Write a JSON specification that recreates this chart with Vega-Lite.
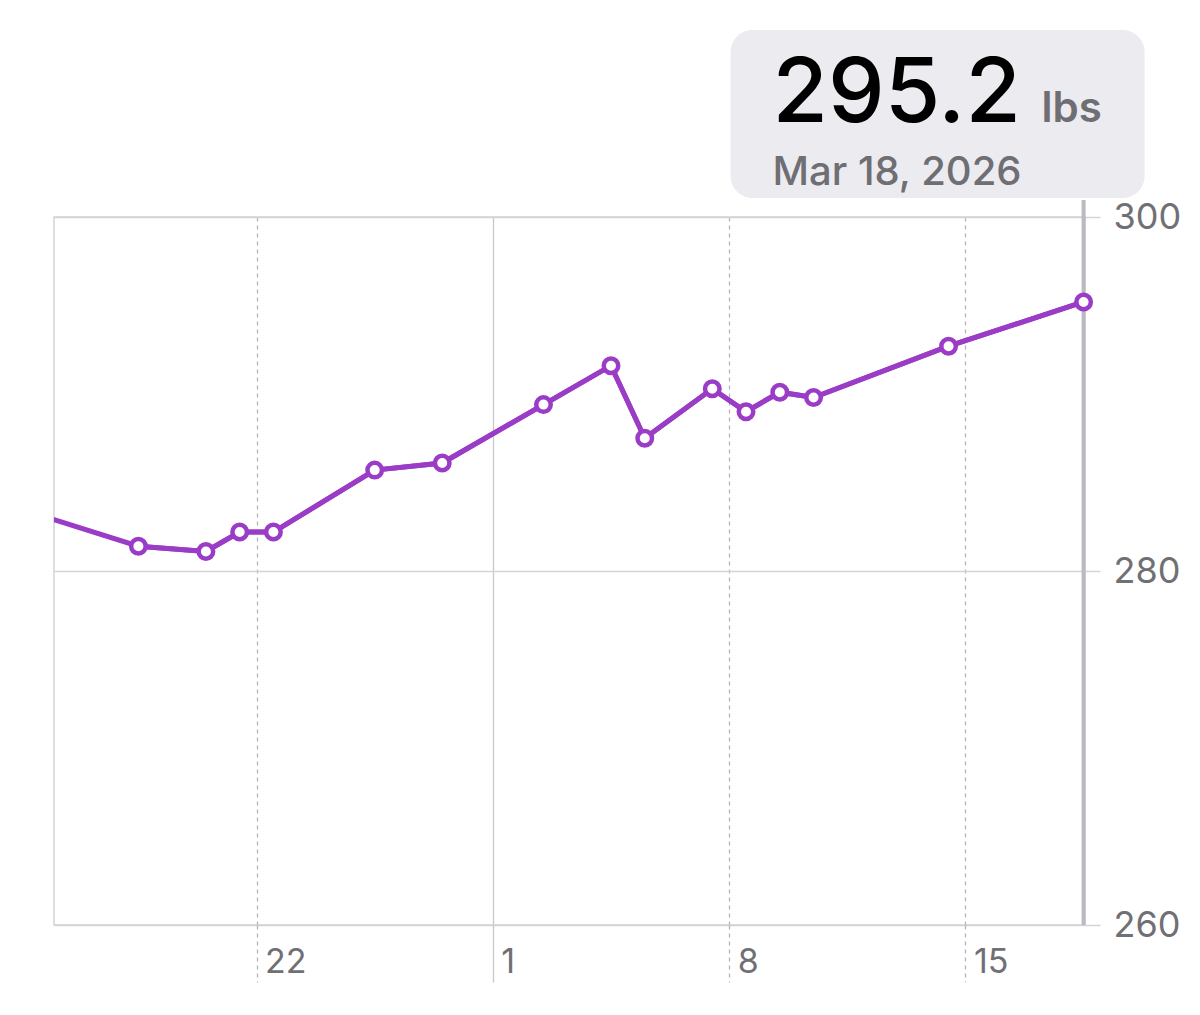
{
  "$schema": "https://vega.github.io/schema/vega-lite/v6.json",
  "width": 1031,
  "height": 708,
  "autosize": {"type": "none"},
  "padding": {"left": 54, "top": 217, "right": 115, "bottom": 90},
  "background": "white",
  "config": {
    "view": {"stroke": "#d4d4d8", "strokeWidth": 1.5},
    "font": "Inter"
  },
  "data": {
    "values": [
      {"date": "2026-02-15T12:00", "weight": 283.2},
      {"date": "2026-02-18T12:00", "weight": 281.4},
      {"date": "2026-02-20T12:00", "weight": 281.1},
      {"date": "2026-02-21T12:00", "weight": 282.2},
      {"date": "2026-02-22T12:00", "weight": 282.2},
      {"date": "2026-02-25T12:00", "weight": 285.7},
      {"date": "2026-02-27T12:00", "weight": 286.1},
      {"date": "2026-03-02T12:00", "weight": 289.4},
      {"date": "2026-03-04T12:00", "weight": 291.6},
      {"date": "2026-03-05T12:00", "weight": 287.5},
      {"date": "2026-03-07T12:00", "weight": 290.3},
      {"date": "2026-03-08T12:00", "weight": 289.0},
      {"date": "2026-03-09T12:00", "weight": 290.1},
      {"date": "2026-03-10T12:00", "weight": 289.8},
      {"date": "2026-03-14T12:00", "weight": 292.7},
      {"date": "2026-03-18T12:00", "weight": 295.2}
    ]
  },
  "encoding": {
    "x": {
      "field": "date",
      "type": "temporal",
      "scale": {
        "domain": [
          {"year": 2026, "month": 2, "date": 16},
          {"year": 2026, "month": 3, "date": 18, "hours": 13}
        ]
      },
      "axis": {
        "values": [
          {"year": 2026, "month": 2, "date": 22},
          {"year": 2026, "month": 3, "date": 1},
          {"year": 2026, "month": 3, "date": 8},
          {"year": 2026, "month": 3, "date": 15}
        ],
        "format": "%-d",
        "title": null,
        "domain": false,
        "grid": true,
        "gridColor": {"condition": {"test": "date(datum.value) == 1", "value": "#c8c8cc"}, "value": "#b4b4b8"},
        "gridDash": {"condition": {"test": "date(datum.value) == 1", "value": []}, "value": [4, 4]},
        "gridWidth": 1.3,
        "ticks": true,
        "tickSize": 57,
        "tickColor": {"condition": {"test": "date(datum.value) == 1", "value": "#c8c8cc"}, "value": "#b4b4b8"},
        "tickDash": {"condition": {"test": "date(datum.value) == 1", "value": []}, "value": [4, 4]},
        "tickWidth": 1.3,
        "labelAlign": "left",
        "labelBaseline": "middle",
        "labelPadding": -20,
        "labelOffset": 8,
        "labelFlush": false,
        "labelOverlap": false,
        "labelFontSize": 34,
        "labelFont": "Inter",
        "labelColor": "#707074"
      }
    },
    "y": {
      "field": "weight",
      "type": "quantitative",
      "scale": {"domain": [260, 300], "zero": false, "nice": false},
      "axis": {
        "orient": "right",
        "values": [260, 280, 300],
        "title": null,
        "domain": false,
        "grid": true,
        "gridColor": "#d4d4d8",
        "gridWidth": 1.5,
        "ticks": true,
        "tickSize": 15,
        "tickColor": "#d4d4d8",
        "tickWidth": 1.5,
        "labelPadding": 13,
        "labelAlign": "left",
        "labelBaseline": "middle",
        "labelFlush": false,
        "labelOverlap": false,
        "labelFontSize": 36,
        "labelFont": "Inter",
        "labelColor": "#707074"
      }
    }
  },
  "layer": [
    {
      "mark": {"type": "line", "color": "#9a3cc6", "strokeWidth": 5, "clip": true}
    },
    {
      "transform": [{"filter": {"field": "date", "timeUnit": "yearmonthdate", "equal": {"year": 2026, "month": 3, "date": 18}}}],
      "mark": {"type": "rect", "color": "#ebebf0", "cornerRadius": 22, "xOffset": -353, "x2Offset": 61, "yOffset": -19, "y2Offset": -187},
      "encoding": {
        "x2": {"field": "date"},
        "y": {"datum": 300, "type": "quantitative"},
        "y2": {"datum": 300}
      }
    },
    {
      "transform": [{"filter": {"field": "date", "timeUnit": "yearmonthdate", "equal": {"year": 2026, "month": 3, "date": 18}}}],
      "mark": {"type": "text", "align": "left", "baseline": "alphabetic", "dx": -311, "dy": -95, "fontSize": 90, "fontWeight": 500, "font": "Inter", "color": "#000000"},
      "encoding": {
        "y": {"datum": 300, "type": "quantitative"},
        "text": {"field": "weight", "type": "quantitative", "format": ".1f"}
      }
    },
    {
      "transform": [{"filter": {"field": "date", "timeUnit": "yearmonthdate", "equal": {"year": 2026, "month": 3, "date": 18}}}],
      "mark": {"type": "text", "align": "left", "baseline": "alphabetic", "dx": -42, "dy": -95, "fontSize": 42, "fontWeight": 600, "font": "Inter", "color": "#6e6e73", "text": "lbs"},
      "encoding": {
        "y": {"datum": 300, "type": "quantitative"}
      }
    },
    {
      "transform": [{"filter": {"field": "date", "timeUnit": "yearmonthdate", "equal": {"year": 2026, "month": 3, "date": 18}}}],
      "mark": {"type": "text", "align": "left", "baseline": "alphabetic", "dx": -311, "dy": -32, "fontSize": 40, "fontWeight": 500, "font": "Inter", "color": "#6e6e73"},
      "encoding": {
        "y": {"datum": 300, "type": "quantitative"},
        "text": {"field": "date", "type": "temporal", "format": "%b %-d, %Y"}
      }
    },
    {
      "transform": [{"filter": {"field": "date", "timeUnit": "yearmonthdate", "equal": {"year": 2026, "month": 3, "date": 18}}}],
      "mark": {"type": "rule", "color": "#babac0", "strokeWidth": 4, "y2Offset": -17},
      "encoding": {
        "y": {"datum": 260, "type": "quantitative"},
        "y2": {"datum": 300}
      }
    },
    {
      "transform": [{"filter": {"field": "date", "gte": {"year": 2026, "month": 2, "date": 16}}}],
      "mark": {"type": "line", "color": "#9a3cc6", "strokeWidth": 5, "point": false}
    },
    {
      "transform": [{"filter": {"field": "date", "gte": {"year": 2026, "month": 2, "date": 16}}}],
      "mark": {"type": "point", "filled": false, "fill": "white", "fillOpacity": 1, "stroke": "#9a3cc6", "strokeWidth": 4.5, "size": 210, "opacity": 1}
    }
  ]
}
